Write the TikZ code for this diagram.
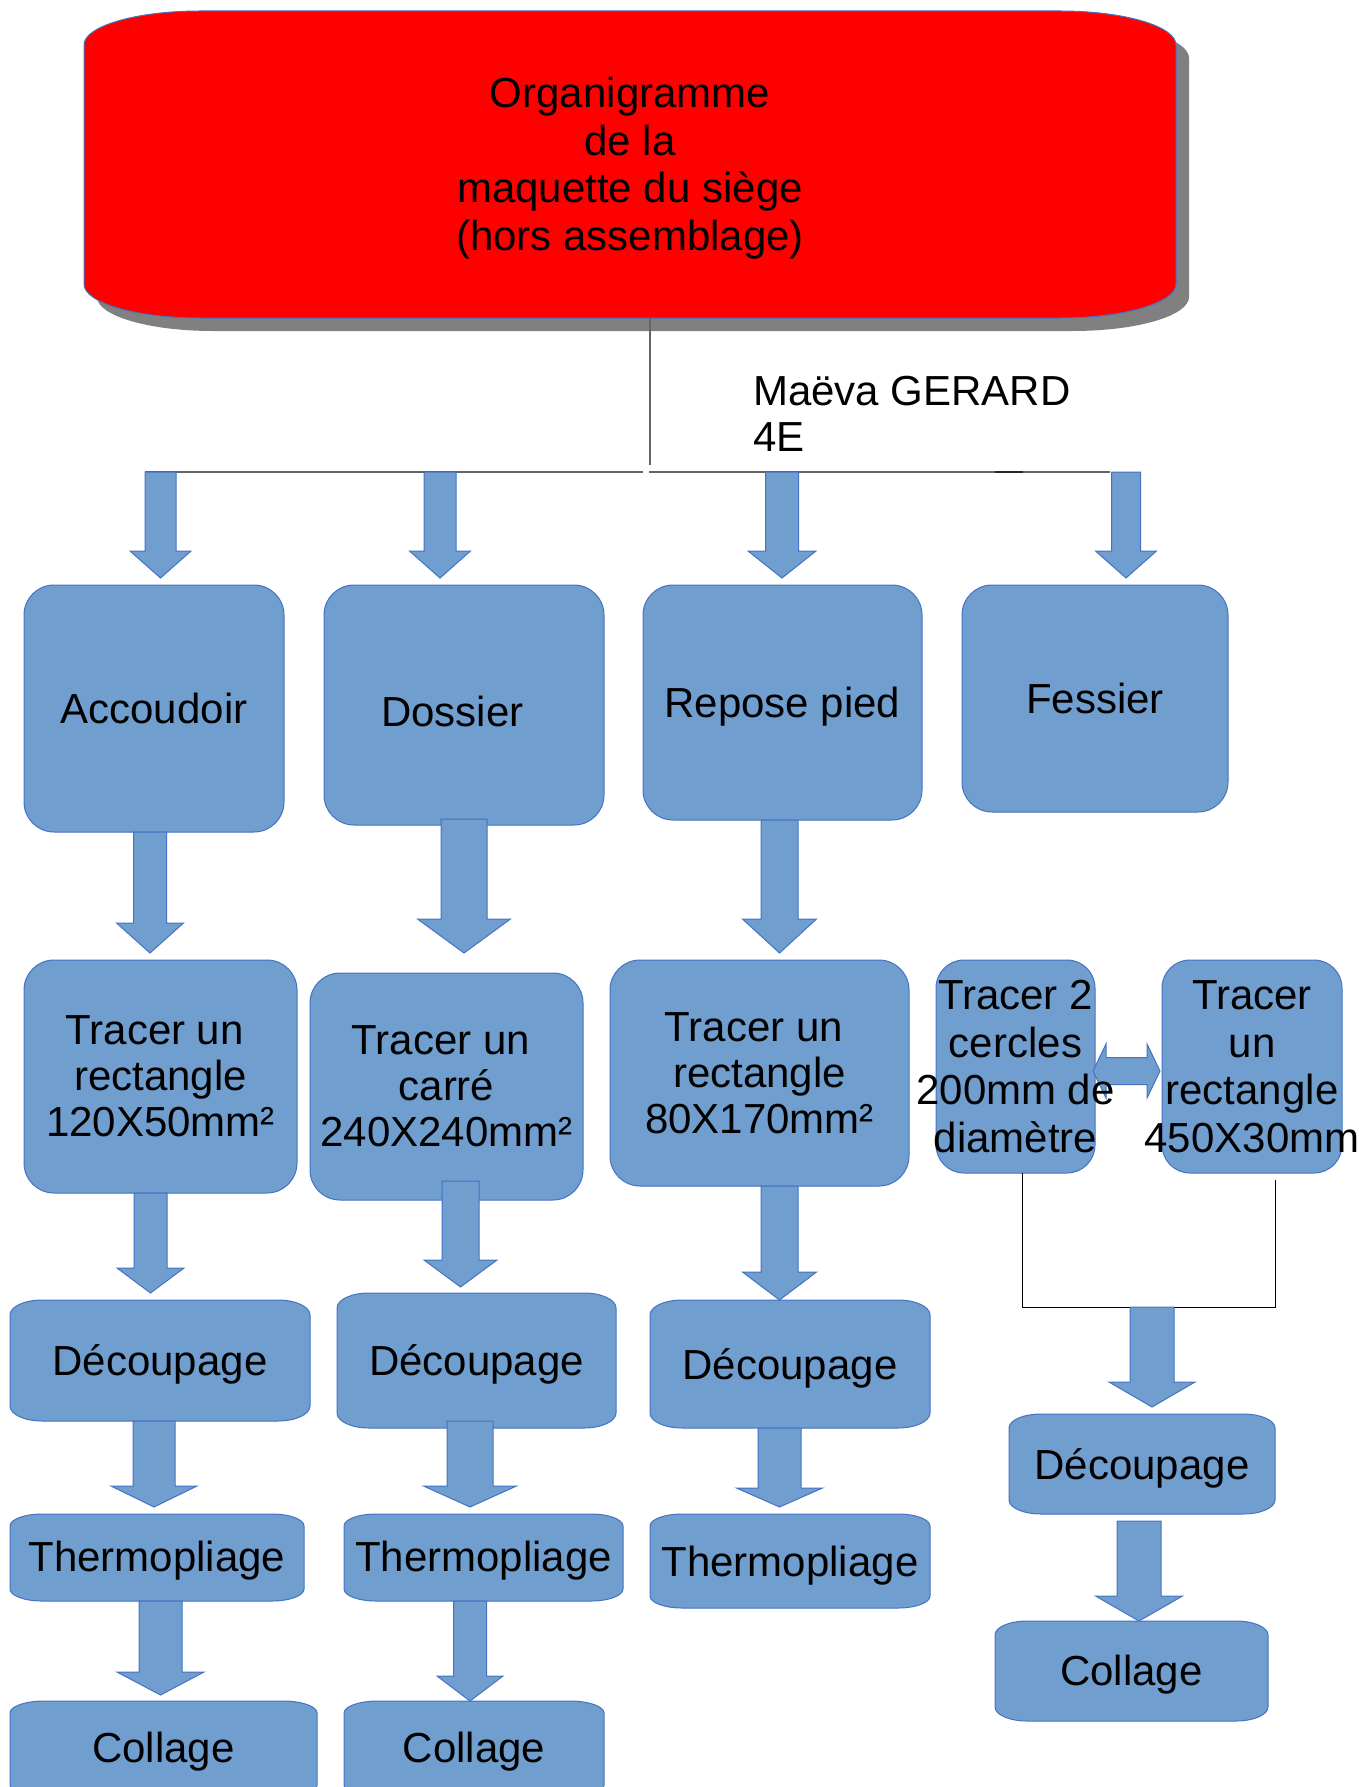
\documentclass[tikz,border=0pt]{standalone}
\usepackage{fontspec}
\setmainfont{Liberation Sans}
\definecolor{boxblue}{RGB}{112,158,206}
\definecolor{edgeblue}{RGB}{68,114,196}
\definecolor{shadowgray}{RGB}{128,128,128}
\definecolor{linegray}{RGB}{100,100,100}
\definecolor{titlered}{RGB}{255,0,0}
\newcommand\tsp{\hspace*{0.2778em}}
% elliptical-corner rounded box: style, x1,y1,x2,y2,rx,ry
\newcommand\eshape[7]{%
\path[#1] (#2+#6,#3) -- (#4-#6,#3)
  .. controls (#4-0.4477*#6,#3) and (#4,#3+0.4477*#7) .. (#4,#3+#7)
  -- (#4,#5-#7)
  .. controls (#4,#5-0.4477*#7) and (#4-0.4477*#6,#5) .. (#4-#6,#5)
  -- (#2+#6,#5)
  .. controls (#2+0.4477*#6,#5) and (#2,#5-0.4477*#7) .. (#2,#5-#7)
  -- (#2,#3+#7)
  .. controls (#2,#3+0.4477*#7) and (#2+0.4477*#6,#3) .. (#2+#6,#3) -- cycle;}
% named box: name, style, x1,y1,x2,y2,rx,ry
\newcommand\ebox[8]{%
\eshape{#2}{#3}{#4}{#5}{#6}{#7}{#8}
\node[inner sep=0pt, minimum width={(#5-#3)*1pt}, minimum height={(#6-#4)*1pt}] (#1) at ({(#3+#5)/2},{(#4+#6)/2}) {};}
% block arrow: xc, ytop, yhead, ytip, shaft half width, head half width
\newcommand\barrow[6]{%
\path[boxshape] (#1-#5,#2) -- (#1+#5,#2) -- (#1+#5,#3) -- (#1+#6,#3) -- (#1,#4) -- (#1-#6,#3) -- (#1-#5,#3) -- cycle;}
\tikzset{
  boxshape/.style={fill=boxblue, draw=edgeblue, line width=1pt},
  titleshape/.style={fill=titlered, draw=edgeblue, line width=1pt},
  shadowshape/.style={fill=shadowgray},
  lbl/.style={font=\fontsize{42}{46}\selectfont, align=center, inner sep=0pt, text=black},
  conn/.style={draw=linegray, line width=1.5pt},
  thinconn/.style={draw=black, line width=1pt}
}
\begin{document}
\begin{tikzpicture}[x=1pt,y=-1pt]
\useasboundingbox (0,0) rectangle (1358,1787);
\fill[white] (0,0) rectangle (1358,1787);
% title
\eshape{shadowshape}{97}{24}{1189}{331}{116}{34}
\ebox{title}{titleshape}{84}{11}{1176}{318}{116}{34}
% connector title -> branches
\coordinate (jn) at (650,465);
\draw[conn] (title.south -| jn) -- (jn);
\draw[conn] (145,472) -- (643,472);
\draw[conn] (649,472) -- (1110,472);
\draw[draw=black!85, line width=2pt] (995,472) -- (1023,472);
% row 2
\ebox{acc}{boxshape}{24}{585}{284}{832}{30}{30}
\ebox{dos}{boxshape}{324}{585}{604}{825}{30}{30}
\ebox{rep}{boxshape}{643}{585}{922}{820}{30}{30}
\ebox{fes}{boxshape}{962}{585}{1228}{812}{30}{30}
% row 3
\ebox{t1}{boxshape}{24}{960}{297}{1193}{30}{30}
\ebox{t2}{boxshape}{310}{973}{583}{1200}{30}{30}
\ebox{t3}{boxshape}{610}{960}{909}{1186}{30}{30}
\ebox{t4}{boxshape}{936}{960}{1095}{1173}{28}{28}
\ebox{t5}{boxshape}{1162}{960}{1342}{1173}{28}{28}
% row 4
\ebox{d1}{boxshape}{10}{1300}{310}{1421}{32}{15}
\ebox{d2}{boxshape}{337}{1293}{616}{1428}{32}{15}
\ebox{d3}{boxshape}{650}{1300}{930}{1428}{32}{15}
\ebox{d4}{boxshape}{1009}{1414}{1275}{1514}{32}{14}
% row 5
\ebox{th1}{boxshape}{10}{1514}{304}{1601}{32}{12}
\ebox{th2}{boxshape}{344}{1514}{623}{1601}{32}{12}
\ebox{th3}{boxshape}{650}{1514}{930}{1608}{32}{12}
% row 6
\ebox{c1}{boxshape}{10}{1701}{317}{1797}{34}{12}
\ebox{c2}{boxshape}{344}{1701}{604}{1797}{34}{12}
\ebox{c4}{boxshape}{995}{1621}{1268}{1721}{32}{14}
% arrows from the branch line
\barrow{160.5}{472}{551}{578}{15.5}{30.5}
\barrow{440}{472}{551}{578}{16}{30.5}
\barrow{782}{472}{551}{578}{16.5}{34}
\barrow{1126}{472}{551}{578}{14.5}{30.5}
% row 2 -> row 3
\barrow{150}{832}{923}{953}{16.5}{33.5}
\barrow{464}{819}{919}{953}{23}{46.5}
\barrow{779.5}{820}{919}{953}{18.5}{37}
% row 3 -> row 4
\barrow{150.5}{1193}{1268}{1293}{16.5}{33.5}
\barrow{460.5}{1181}{1260}{1287}{18.5}{36.5}
\barrow{779.5}{1186}{1272}{1300}{18.5}{37}
% row 4 -> row 5
\barrow{154}{1421}{1486}{1507}{21}{43}
\barrow{470}{1421}{1486}{1507}{23}{46.5}
\barrow{779.5}{1428}{1488}{1507}{21.5}{43}
% row 5 -> row 6
\barrow{160.5}{1601}{1672}{1695}{21.5}{43.5}
\barrow{470}{1601}{1676}{1701}{16.5}{33}
% column 4
\coordinate (jl) at (1022,1307);
\coordinate (jr) at (1275,1307);
\draw[thinconn] (t4.south -| jl) -- (jl) -- (jr) -- (jr |- 0,1180);
\barrow{1152}{1307}{1382}{1407}{22}{43}
\barrow{1139}{1521}{1596}{1621}{22}{43.5}
% double arrow between t4 and t5
\path[boxshape] (1093,1071) -- (1106,1044) -- (1106,1057.5) -- (1147,1057.5) -- (1147,1044)
  -- (1160,1071) -- (1147,1098) -- (1147,1084.5) -- (1106,1084.5) -- (1106,1098) -- cycle;
% texts
\node[lbl, font=\fontsize{42}{47.5}\selectfont] at ([yshift=-3.5pt]title.center) {Organigramme\\de la\tsp\\maquette du siège\\(hors assemblage)};
\node[lbl, align=left, anchor=west] (auth) at (753,414) {Maëva GERARD\\4E};
\node[lbl] at (acc) {Accoudoir};
\node[lbl] at ([yshift=-6pt]dos.center) {Dossier\tsp\tsp};
\node[lbl] at ([yshift=-4.5pt]rep.center) {Repose pied};
\node[lbl] at (fes) {Fessier};
\node[lbl] at (t1) {Tracer un\tsp\\rectangle\\120X50mm²};
\node[lbl] at (t2) {Tracer un\tsp\\carré\tsp\\240X240mm²};
\node[lbl] at (t3) {Tracer un\tsp\\rectangle\tsp\\80X170mm²};
\node[lbl, font=\fontsize{42}{47.5}\selectfont] at (t4) {Tracer 2\\cercles\\200mm de\\diamètre};
\node[lbl, font=\fontsize{42}{47.5}\selectfont] at (t5) {Tracer\\un\tsp\\rectangle\\450X30mm};
\node[lbl] at ([yshift=-3.5pt]d1.center) {Découpage};
\node[lbl] at ([yshift=-3.5pt]d2.center) {Découpage};
\node[lbl] at ([yshift=-4pt]d3.center) {Découpage};
\node[lbl] at ([yshift=-4.5pt]d4.center) {Découpage};
\node[lbl] at ([yshift=-3.5pt]th1.center) {Thermopliage};
\node[lbl] at ([yshift=-3.5pt]th2.center) {Thermopliage};
\node[lbl] at ([yshift=-5pt]th3.center) {Thermopliage};
\node[lbl] at ([yshift=-2.5pt]c1.center) {Collage};
\node[lbl] at ([yshift=-2.5pt]c2.center) {Collage};
\node[lbl] at ([yshift=-3.5pt]c4.center) {Collage};
\end{tikzpicture}
\end{document}
